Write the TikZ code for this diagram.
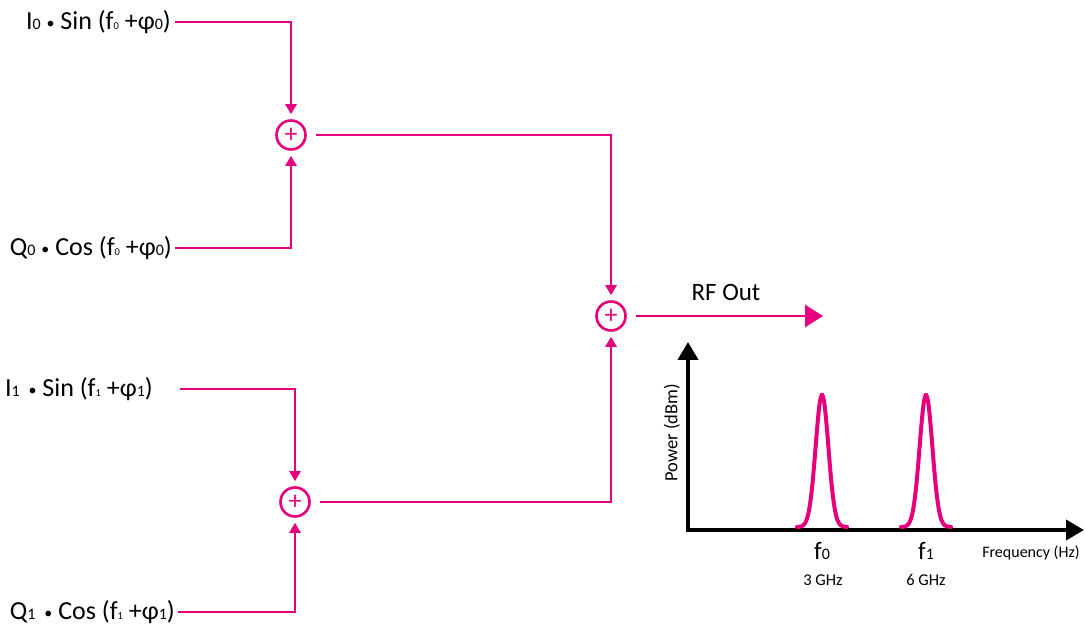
\documentclass[tikz,border=0pt]{standalone}
\usepackage{fontspec}
\setmainfont{Carlito}
\usepackage{tikz}
\usetikzlibrary{arrows.meta}
\definecolor{rfpink}{RGB}{230,0,126}
% subscripts: big after I, Q, phi; tiny after f
\newcommand{\lo}[1]{{\fontsize{16}{16}\selectfont #1}}
\newcommand{\tn}[1]{{\fontsize{10.5}{11}\selectfont #1}}
\newcommand{\dotop}{\raisebox{1pt}{\fontsize{16}{16}\selectfont •}}

\begin{document}
\begin{tikzpicture}[x=1pt,y=-1pt, line join=miter,
  sig/.style={rfpink, line width=2.6pt},
  feed/.style={sig, -{Triangle[length=10pt,width=11pt]}, shorten >=5pt},
  sum/.style={circle, draw=rfpink, line width=2.6pt, minimum size=29pt, inner sep=0pt, text=rfpink, font=\fontsize{26}{26}\selectfont},
  lbl/.style={font=\fontsize{26}{28}\selectfont, inner sep=0pt, anchor=east},
  axis/.style={line width=4pt, {Triangle[length=18pt,width=20pt]}-{Triangle[length=18pt,width=20pt]}},
  peak/.style={rfpink, line width=4pt, line cap=round}]
\useasboundingbox (0,0) rectangle (1085,628);

% summing points
\node[sum] (s0) at (291,135) {+};
\node[sum] (s1) at (295,502) {+};
\node[sum] (rf) at (611,316) {+};

% inputs
\node[lbl] (i0) at (171,22) {I\lo{0} \dotop{} Sin (f\tn{0} +φ\lo{0})};
\node[lbl] (q0) at (172,248) {Q\lo{0} \dotop{} Cos (f\tn{0} +φ\lo{0})};
\node[lbl] (i1) at (153,389) {I\lo{1}\hspace{3pt} \dotop{} Sin (f\tn{1} +φ\lo{1})};
\node[lbl] (q1) at (175,612) {Q\lo{1}\hspace{3pt} \dotop{} Cos (f\tn{1} +φ\lo{1})};

\draw[feed] ([xshift=4pt]i0.east) -| (s0);
\draw[feed] ([xshift=3pt]q0.east) -| (s0);
\draw[feed] ([xshift=27pt]i1.east) -| (s1);
\draw[feed] ([xshift=3pt]q1.east) -| (s1);
\draw[feed] ([xshift=9pt]s0.east) -| (rf);
\draw[feed] ([xshift=9pt]s1.east) -| (rf);

% output
\coordinate (out) at (823,316);
\draw[sig, -{Triangle[length=18pt,width=22pt]}] ([xshift=9pt]rf.east) -- (out);
\node[font=\fontsize{25}{28}\selectfont] (rfout) at (726,292) {RF Out};

% spectrum
\coordinate (ytip) at (688,342);
\coordinate (xtip) at (1084,530);
\draw[axis] (ytip) |- (xtip);
\draw[peak] plot[domain=-25:25, samples=80] ({822+\x}, {527-132*exp(-(\x)^2/(2*6.4^2))});
\draw[peak] plot[domain=-25:25, samples=80] ({926+\x}, {527-132*exp(-(\x)^2/(2*6.4^2))});

\node[font=\fontsize{25}{28}\selectfont] (f0) at (822,551) {f\lo{0}};
\node[font=\fontsize{25}{28}\selectfont] (f1) at (926,551) {f\lo{1}};
\node[font=\fontsize{16.5}{18}\selectfont] (g0) at (823,580) {3 GHz};
\node[font=\fontsize{16.5}{18}\selectfont] (g1) at (926,580) {6 GHz};
\node[font=\fontsize{16}{18}\selectfont] (fx) at (1031,553) {Frequency (Hz)};
\node[font=\fontsize{18.5}{20}\selectfont, rotate=90] (py) at (672,433) {Power (dBm)};
\end{tikzpicture}
\end{document}
